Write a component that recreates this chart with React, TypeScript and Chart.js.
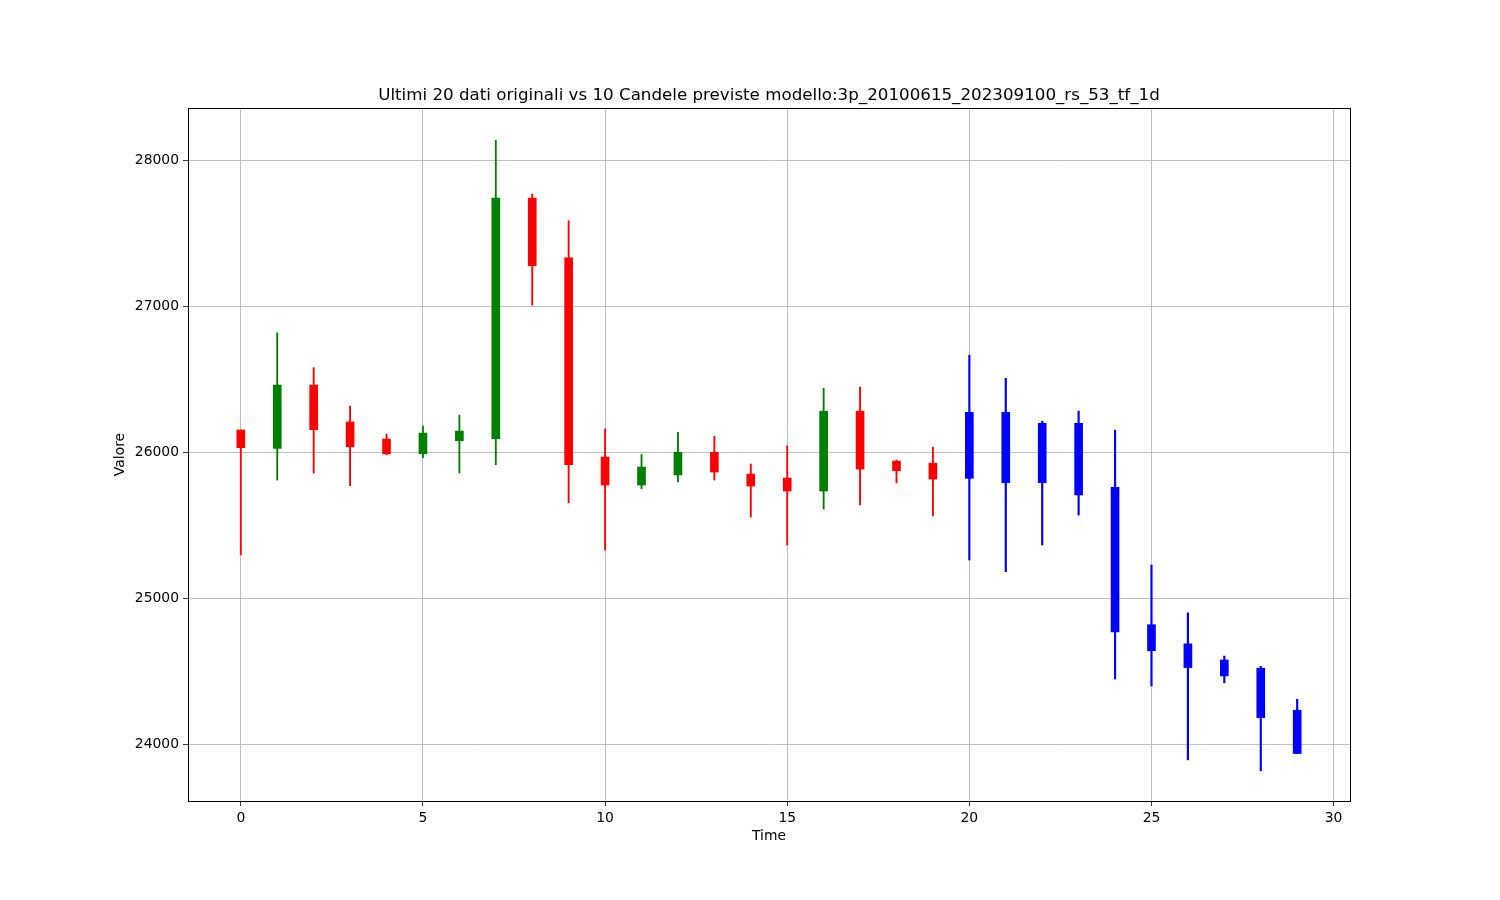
import React, { useEffect, useRef } from "react";
import { Chart, registerables } from "chart.js";

Chart.register(...registerables);

// Historical candles (index 0..19)
const histOpen = [26153, 26027, 26461, 26208, 26091, 25990, 26080, 26093, 27742, 27333, 25968, 25776, 25845, 26000, 25851, 25824, 25735, 26282, 25940, 25926];
const histHigh = [26153, 26819, 26580, 26316, 26125, 26180, 26255, 28138, 27770, 27586, 26160, 25985, 26137, 26111, 25920, 26043, 26439, 26447, 25947, 26036];
const histLow = [25297, 25810, 25858, 25771, 25982, 25963, 25858, 25916, 27008, 25653, 25330, 25751, 25797, 25810, 25557, 25365, 25611, 25639, 25790, 25564];
const histClose = [26032, 26461, 26155, 26038, 25990, 26132, 26146, 27742, 27278, 25915, 25776, 25899, 26000, 25865, 25769, 25735, 26282, 25885, 25874, 25817];

// Predicted candles (index 20..29)
const predOpen = [26274, 26274, 26199, 26199, 25760, 24819, 24688, 24577, 24521, 24233];
const predHigh = [26665, 26507, 26214, 26282, 26152, 25228, 24900, 24604, 24534, 24308];
const predLow = [25262, 25182, 25365, 25570, 24447, 24399, 23893, 24421, 23818, 23936];
const predClose = [25822, 25792, 25792, 25708, 24769, 24641, 24525, 24468, 24182, 23936];

const xTicks = [0, 5, 10, 15, 20, 25, 30];
const yTicks = [24000, 25000, 26000, 27000, 28000];

const titleText = "Ultimi 20 dati originali vs 10 Candele previste modello:3p_20100615_202309100_rs_53_tf_1d";

const FONT = "'DejaVu Sans', sans-serif";

export default function App() {
  const ref = useRef<HTMLCanvasElement | null>(null);

  useEffect(() => {
    if (!ref.current) return;
    const nHist = histOpen.length;
    const histBodies = histOpen.map((o, i) => ({ x: i, y: [Math.min(o, histClose[i]), Math.max(o, histClose[i])] }));
    const histWicks = histOpen.map((_, i) => ({ x: i, y: [histLow[i], histHigh[i]] }));
    const histColors = histOpen.map((o, i) => (histClose[i] >= o ? "#008000" : "#ff0000"));
    const predBodies = predOpen.map((o, i) => ({ x: nHist + i, y: [Math.min(o, predClose[i]), Math.max(o, predClose[i])] }));
    const predWicks = predOpen.map((_, i) => ({ x: nHist + i, y: [predLow[i], predHigh[i]] }));

    const framePlugin = {
      id: "frame",
      afterDraw(chart: any) {
        const { ctx, chartArea } = chart;
        ctx.save();
        ctx.strokeStyle = "#000";
        ctx.lineWidth = 1;
        ctx.strokeRect(Math.round(chartArea.left) + 0.5, Math.round(chartArea.top) + 0.5, Math.round(chartArea.right - chartArea.left), Math.round(chartArea.bottom - chartArea.top));
        ctx.restore();
      },
    };

    const chart = new Chart(ref.current, {
      type: "bar",
      data: {
        datasets: [
          { data: histBodies as any, backgroundColor: histColors, barThickness: 8, grouped: false, order: 0, borderWidth: 0 } as any,
          { data: predBodies as any, backgroundColor: "#0000ff", barThickness: 8, grouped: false, order: 0, borderWidth: 0 } as any,
          { data: histWicks as any, backgroundColor: histColors, barThickness: 1.2, grouped: false, order: 1, borderWidth: 0 } as any,
          { data: predWicks as any, backgroundColor: "#0000ff", barThickness: 1.5, grouped: false, order: 1, borderWidth: 0 } as any,
        ],
      },
      plugins: [framePlugin],
      options: {
        animation: false,
        responsive: false,
        devicePixelRatio: 1,
        layout: { padding: { left: 112, right: 150, top: 0, bottom: 55 } },
        plugins: {
          legend: { display: false },
          tooltip: { enabled: false },
          title: {
            display: true,
            fullSize: false,
            text: titleText,
            color: "#000",
            font: { family: FONT, size: 16.7, weight: "normal" as any },
            padding: { top: 86, bottom: 2 },
          },
        },
        scales: {
          x: {
            type: "linear",
            offset: false,
            min: -1.45,
            max: 30.45,
            afterBuildTicks: (scale: any) => {
              scale.ticks = xTicks.map((v) => ({ value: v }));
            },
            afterFit: (scale: any) => {
              scale.height = 44;
            },
            ticks: { color: "#000", font: { family: FONT, size: 13.9 }, padding: 4, maxRotation: 0, includeBounds: false },
            grid: { offset: false, color: "#b0b0b0", lineWidth: 0.8, tickLength: 5, tickColor: "#000", tickWidth: 0.8 } as any,
            border: { color: "#000", width: 1 },
            title: { display: true, text: "Time", color: "#000", font: { family: FONT, size: 13.9 }, padding: 0 },
          },
          y: {
            type: "linear",
            min: 23611,
            max: 28359,
            afterBuildTicks: (scale: any) => {
              scale.ticks = yTicks.map((v) => ({ value: v }));
            },
            afterFit: (scale: any) => {
              scale.width = 76;
            },
            ticks: { color: "#000", font: { family: FONT, size: 13.9 }, padding: 4, callback: (v: any) => String(v), includeBounds: false },
            grid: { color: "#b0b0b0", lineWidth: 0.8, tickLength: 5, tickColor: "#000", tickWidth: 0.8 } as any,
            border: { color: "#000", width: 1 },
            title: { display: true, text: "Valore", color: "#000", font: { family: FONT, size: 13.9 }, padding: 0 },
          },
        },
      } as any,
    });
    return () => chart.destroy();
  }, []);

  return (
    <div style={{ position: "fixed", left: 0, top: 0, width: 1500, height: 900, background: "#fff" }}>
      <canvas ref={ref} width={1500} height={900} style={{ display: "block" }} />
    </div>
  );
}
